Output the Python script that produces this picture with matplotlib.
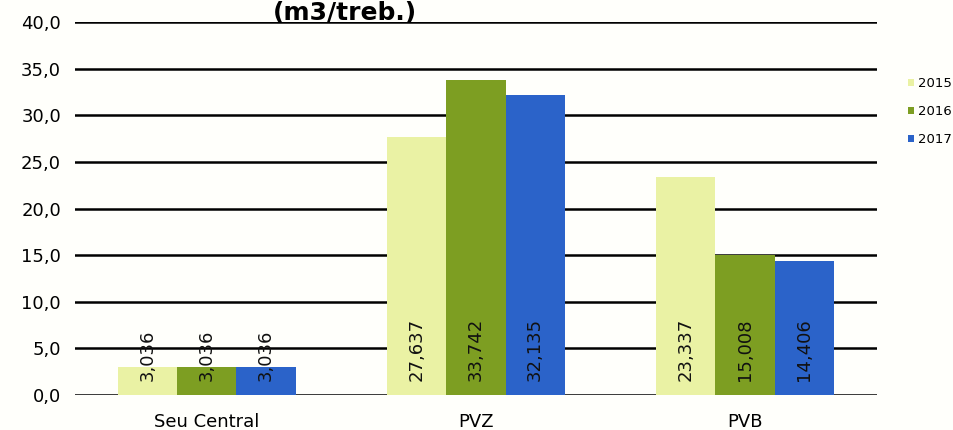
import matplotlib.pyplot as plt
import numpy as np

categories = ['Seu Central', 'PVZ', 'PVB']
years = ['2015', '2016', '2017']
values = {
    '2015': [3.036, 27.637, 23.337],
    '2016': [3.036, 33.742, 15.008],
    '2017': [3.036, 32.135, 14.406],
}
colors = {'2015': '#eaf2a4', '2016': '#7d9e22', '2017': '#2b63c9'}
yticks = np.arange(0, 45, 5)

fig = plt.figure(figsize=(9.54, 4.3), dpi=100)
fig.patch.set_facecolor('#fffffb')
ax = fig.add_axes([0.0786, 0.0814, 0.8406, 0.8674])
ax.set_facecolor('#fffffb')

x = np.arange(len(categories))
w = 0.22
for i, yr in enumerate(years):
    xs = x + (i - 1) * w
    ax.bar(xs, values[yr], width=w, color=colors[yr], label=yr, zorder=3)
    for xi, v in zip(xs, values[yr]):
        ax.text(xi, 1.5, f'{v:.3f}'.replace('.', ','), rotation=90,
                ha='center', va='bottom', fontsize=13, color='#111111', zorder=4)

ax.set_xlim(-0.49, 2.49)
ax.set_ylim(0, 40)
ax.set_yticks(yticks)
ax.set_yticklabels([f'{t:.1f}'.replace('.', ',') for t in yticks], fontsize=13)
ax.set_xticks(x)
ax.set_xticklabels(categories, fontsize=13)
ax.tick_params(axis='y', length=0, pad=10)
ax.tick_params(axis='x', length=0, pad=13)
ax.yaxis.grid(True, color='black', lw=1.8, zorder=1)
for s in ax.spines.values():
    s.set_visible(False)

fig.text(0.362, 1 - 20 / 430, '(m3/treb.)', ha='center', va='baseline',
         fontsize=18, fontweight='bold')

leg = ax.legend(loc='upper left', bbox_to_anchor=(1.03, 0.87), frameon=False,
                fontsize=9.5, handlelength=0.45, handleheight=0.45,
                handletextpad=0.35, labelspacing=1.15, borderpad=0)

fig.savefig('out.png', dpi=100, facecolor=fig.get_facecolor())
